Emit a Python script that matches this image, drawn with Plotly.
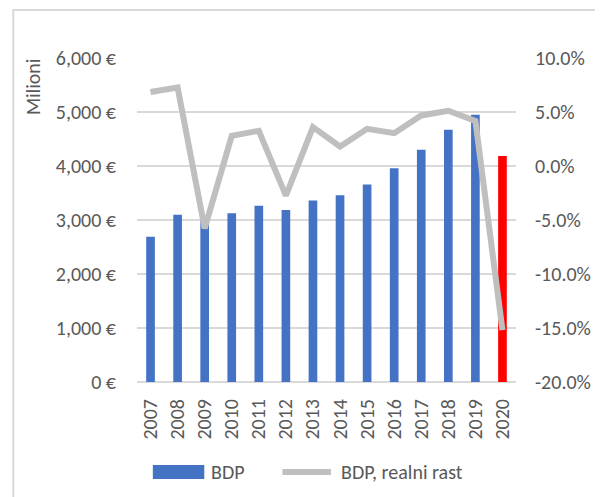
import plotly.graph_objects as go

years = [str(y) for y in range(2007, 2021)]
bdp = [2690, 3098, 3000, 3124, 3266, 3186, 3359, 3458, 3656, 3959, 4299, 4670, 4948, 4187]
rast = [0.0685, 0.0727, -0.0577, 0.0279, 0.0326, -0.0274, 0.0360, 0.0180, 0.0344, 0.0304, 0.0468, 0.0511, 0.0418, -0.1520]
bar_colors = ["#4472C4"] * 13 + ["#FF0000"]
left_ticks = [0, 1000, 2000, 3000, 4000, 5000, 6000]
left_labels = ["0 €", "1,000 €", "2,000 €", "3,000 €", "4,000 €", "5,000 €", "6,000 €"]
right_ticks = [-0.20, -0.15, -0.10, -0.05, 0.0, 0.05, 0.10]
right_labels = ["-20.0%", "-15.0%", "-10.0%", "-5.0%", "0.0%", "5.0%", "10.0%"]

FONT = "Carlito, Calibri, Liberation Sans, Arial, sans-serif"
FS = 20
TXT = "#595959"
GRID = "#D9D9D9"

fig = go.Figure()
fig.add_trace(go.Bar(x=years, y=bdp, marker=dict(color=bar_colors, line=dict(width=0)),
                     name="BDP", yaxis="y"))
fig.add_trace(go.Scatter(x=years, y=rast, mode="lines", name="BDP, realni rast",
                         line=dict(color="#BFBFBF", width=6), yaxis="y2"))

# page has an 8px body margin: shift everything up/left by 8px
OFF = 8
W, H = 603 - OFF, 497 - OFF
L, T = 137 - OFF, 58 - OFF
R = W - (520 - OFF)
B = H - (382 - OFF)
pw = W - L - R
ph = H - T - B

def px(x):
    return (x - OFF - L) / pw

def py(y):
    return (H - B - (y - OFF)) / ph

shapes = [
    dict(type="rect", xref="paper", yref="paper", x0=px(12), x1=px(601), y0=py(510), y1=py(10),
         line=dict(color=GRID, width=2), fillcolor="rgba(0,0,0,0)", layer="below"),
    dict(type="rect", xref="paper", yref="paper", x0=px(153), x1=px(205), y0=py(479), y1=py(465),
         line=dict(width=0), fillcolor="#4472C4"),
    dict(type="line", xref="paper", yref="paper", x0=px(284), x1=px(333), y0=py(472), y1=py(472),
         line=dict(color="#BFBFBF", width=6)),
]
annotations = [
    dict(text="Milioni", xref="paper", yref="paper", x=px(32), y=py(87), showarrow=False,
         textangle=-90, font=dict(family=FONT, size=FS, color=TXT), xanchor="center", yanchor="middle"),
    dict(text="BDP", xref="paper", yref="paper", x=px(210), y=py(472), showarrow=False,
         font=dict(family=FONT, size=FS, color=TXT), xanchor="left", yanchor="middle"),
    dict(text="BDP, realni rast", xref="paper", yref="paper", x=px(341), y=py(472), showarrow=False,
         font=dict(family=FONT, size=FS, color=TXT), xanchor="left", yanchor="middle"),
]

fig.update_layout(
    width=W, height=H,
    margin=dict(l=L, r=R, t=T, b=B),
    paper_bgcolor="white", plot_bgcolor="white",
    showlegend=False,
    bargap=0.68,
    font=dict(family=FONT, size=FS, color=TXT),
    xaxis=dict(type="category", tickangle=-90, showgrid=False, showline=False, zeroline=False,
               ticks="", ticklabelstandoff=12, tickfont=dict(size=FS, color=TXT)),
    yaxis=dict(range=[0, 6000], tickvals=left_ticks, ticktext=left_labels, showgrid=True,
               gridcolor=GRID, gridwidth=1.5, zeroline=True, zerolinecolor=GRID, zerolinewidth=1.5,
               showline=False, ticks="", ticklabelstandoff=20, tickfont=dict(size=FS, color=TXT)),
    yaxis2=dict(range=[-0.20, 0.10], tickvals=right_ticks, ticktext=right_labels, overlaying="y",
                side="right", showgrid=False, zeroline=False, showline=False, ticks="",
                ticklabelstandoff=18, tickfont=dict(size=FS, color=TXT)),
    shapes=shapes,
    annotations=annotations,
)

fig.write_html("out.html")
